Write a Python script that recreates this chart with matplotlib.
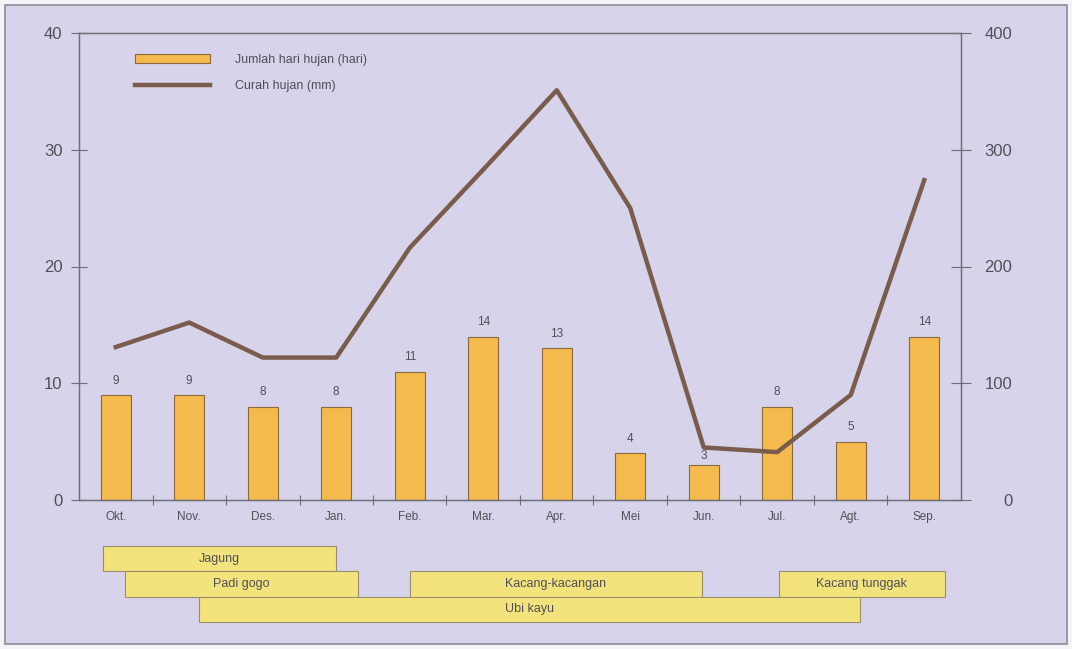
import numpy as np
import matplotlib.pyplot as plt
from matplotlib.patches import Rectangle, Patch
from matplotlib.lines import Line2D

plt.rcParams['font.family'] = ['Liberation Sans', 'DejaVu Sans']

# data
months = ['Okt.', 'Nov.', 'Des.', 'Jan.', 'Feb.', 'Mar.', 'Apr.', 'Mei', 'Jun.', 'Jul.', 'Agt.', 'Sep.']
rain_days = [9, 9, 8, 8, 11, 14, 13, 4, 3, 8, 5, 14]
rainfall = [131, 152, 122, 122, 216, 283, 351, 250, 45, 41, 90, 274]

crops = ['Jagung', 'Padi gogo', 'Kacang-kacangan', 'Kacang tunggak', 'Ubi kayu']
crop_start = [-0.18, 0.12, 4.01, 9.02, 1.13]
crop_end = [3.0, 3.29, 7.97, 11.28, 10.12]
crop_row = [2, 1, 1, 1, 0]

bg = '#d6d3ea'
txt = '#505058'
bar_col = '#f5ba4e'
line_col = '#7a5c4c'
crop_col = '#f3e37c'
axis_col = '#6e6e78'

fig = plt.figure(figsize=(10.72, 6.49), dpi=100, facecolor='#f4f3f7')
fig.patches.append(Rectangle((5 / 1072, 5 / 649), 1062 / 1072, 639 / 649,
                             transform=fig.transFigure, facecolor=bg,
                             edgecolor='#8d8c95', lw=1.2, zorder=-10))

ax = fig.add_axes([79 / 1072, 1 - 500 / 649, 882 / 1072, 467 / 649])
ax.set_facecolor('none')
x = np.arange(len(months))
ax.bar(x, rain_days, width=0.41, color=bar_col, edgecolor='#8a6a3c', lw=0.8, zorder=2)
for xi, v, m in zip(x, rain_days, months):
    # the Jun. label sits lower, under the line
    off = 2 if m == 'Jun.' else 6
    ax.annotate(str(v), (xi, v), xytext=(0, off), textcoords='offset points',
                ha='center', va='bottom', fontsize=8.5, color=txt)
ax.set_xlim(-0.5, 11.5)
ax.set_ylim(0, 40)
ax.set_yticks([0, 10, 20, 30, 40])
ax.set_xticks(x)
ax.set_xticklabels(months, fontsize=8.5, color=txt)
ax.set_xticks(np.arange(0.5, 11.5, 1), minor=True)
ax.tick_params(axis='x', which='major', length=0, pad=8)
ax.tick_params(axis='x', which='minor', length=7, direction='inout', color=axis_col, width=0.8)
ax.tick_params(axis='y', length=12, direction='inout', color=axis_col, width=0.8,
               labelsize=12, labelcolor=txt, pad=6)
for s in ax.spines.values():
    s.set_color(axis_col)
    s.set_linewidth(0.9)

ax2 = ax.twinx()
ax2.plot(x, rainfall, color=line_col, lw=3.2, zorder=3)
ax2.set_ylim(0, 400)
ax2.set_yticks([0, 100, 200, 300, 400])
ax2.tick_params(axis='y', length=14, direction='inout', color=axis_col, width=0.8,
                labelsize=12, labelcolor=txt, pad=30)
for lab in ax2.get_yticklabels():
    lab.set_horizontalalignment('right')
for s in ax2.spines.values():
    s.set_color(axis_col)
    s.set_linewidth(0.9)

handles = [Patch(facecolor=bar_col, edgecolor='#8a6a3c', lw=0.8),
           Line2D([], [], color=line_col, lw=3.2)]
ax2.legend(handles, ['Jumlah hari hujan (hari)', 'Curah hujan (mm)'],
           loc='upper left', bbox_to_anchor=(0.0635, 0.955), frameon=False,
           fontsize=9, handlelength=6, handletextpad=2, labelspacing=1.15,
           borderpad=0, borderaxespad=0, labelcolor=txt)

# crop calendar
axc = fig.add_axes([79 / 1072, 1 - 622 / 649, 882 / 1072, 76 / 649])
axc.set_xlim(-0.5, 11.5)
axc.set_ylim(0, 3)
axc.axis('off')
for name, a, b, r in zip(crops, crop_start, crop_end, crop_row):
    axc.barh(r, b - a, left=a, height=1, align='edge', color=crop_col,
             edgecolor='#9a8f6a', lw=0.8, clip_on=False)
    axc.text((a + b) / 2, r + 0.5, name, ha='center', va='center', fontsize=9, color=txt)

fig.savefig('out.png', dpi=100, facecolor=fig.get_facecolor())
